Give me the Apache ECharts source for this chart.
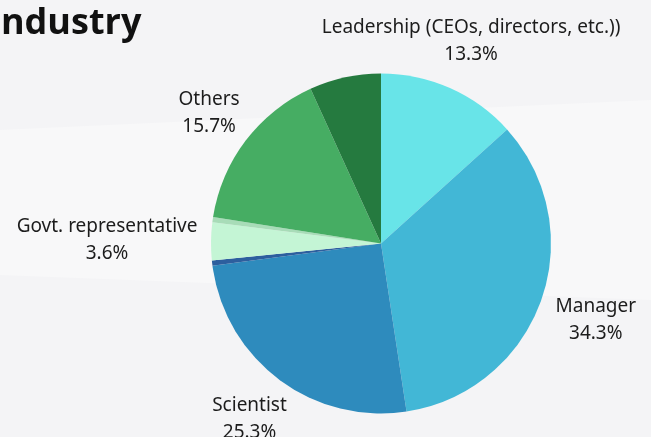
<!DOCTYPE html>
<html>
<head>
<meta charset="utf-8">
<script src="https://cdn.jsdelivr.net/npm/echarts@6/dist/echarts.min.js"></script>
<style>
  html, body { margin: 0; padding: 0; background: #f4f4f6; }
  #chart { width: 651px; height: 437px; }
</style>
</head>
<body>
<div id="chart"></div>
<script>
  // slices, clockwise from 12 o'clock
  const categories = [
    'Leadership (CEOs, directors, etc.))',
    'Manager',
    'Scientist',
    'Engineer',
    'Govt. representative',
    'Student',
    'Others',
    'Consultant'
  ]
  const values = [13.3, 34.3, 25.3, 0.5, 3.6, 0.5, 15.7, 6.8]
  const colors = ['#68e4e8', '#42b7d6', '#2e8bbd', '#2d5f9e', '#c4f5d5', '#a8dcb8', '#46ad63', '#257a3f']

  // which slices carry a label and how far it sits from the rim
  const labelGap = {
    'Leadership (CEOs, directors, etc.))': 52,
    'Manager': 58,
    'Scientist': 49,
    'Govt. representative': 104,
    'Others': 46
  }

  const chart = echarts.init(document.getElementById('chart'))

  const data = categories.map((name, i) => {
    const gap = labelGap[name]
    return {
      name: name,
      value: values[i],
      itemStyle: { color: colors[i] },
      label: { show: gap != null },
      labelLine: { show: false, length: gap || 10, length2: 0 }
    }
  })

  const option = {
    backgroundColor: '#f4f4f6',
    animation: false,
    title: {
      text: 'Industry',
      left: -16,
      top: 1,
      textStyle: {
        fontFamily: 'Open Sans',
        fontWeight: 'bold',
        fontSize: 36,
        color: '#111'
      }
    },
    graphic: [{
      type: 'polygon',
      z: -1,
      silent: true,
      shape: { points: [[0, 130], [651, 100], [651, 300], [0, 275]] },
      style: { fill: '#f8f8f9' }
    }],
    series: [{
      type: 'pie',
      center: [381, 243.5],
      radius: 170,
      startAngle: 90,
      clockwise: true,
      percentPrecision: 1,
      avoidLabelOverlap: false,
      itemStyle: { borderWidth: 0 },
      label: {
        position: 'outside',
        alignTo: 'none',
        distanceToLabelLine: 0,
        width: 360,
        formatter: '{t|{b}}\n{t|{d}%}',
        rich: {
          t: {
            fontFamily: 'Noto Sans',
            fontSize: 19,
            lineHeight: 27,
            color: '#1c1c1c',
            align: 'center'
          }
        }
      },
      labelLayout: { align: 'center', verticalAlign: 'middle' },
      emphasis: { disabled: true },
      data: data
    }]
  }

  chart.setOption(option)
</script>
</body>
</html>
